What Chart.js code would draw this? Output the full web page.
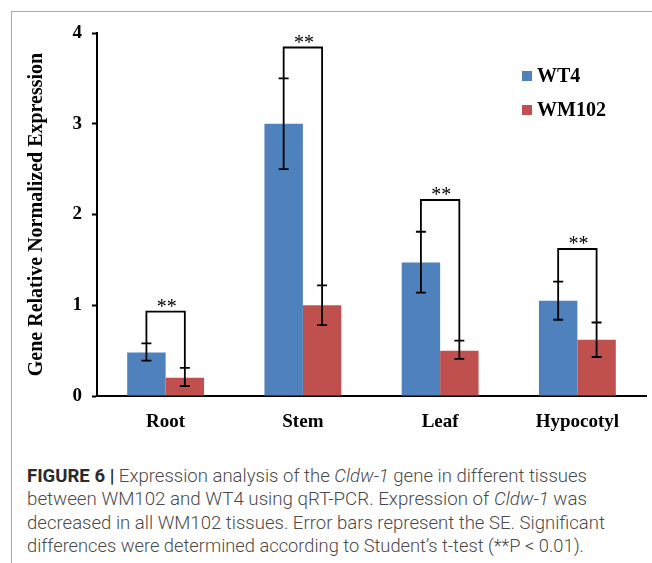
<!DOCTYPE html>
<html>
<head>
<meta charset="utf-8">
<script src="https://cdn.jsdelivr.net/npm/chart.js@4.4.1/dist/chart.umd.min.js"></script>
<style>
  body { margin: 0; background: #fff; }
  #wrap { position: relative; width: 652px; height: 563px; overflow: hidden; }
  #frame { position: absolute; left: 11px; top: 11px; right: -5px; bottom: -5px;
           border-top: 1px solid #aaa; border-left: 1px solid #aaa; }
  #salesChart { position: absolute; left: 0; top: 0; }
  .cap { position: absolute; left: 27px; white-space: nowrap; transform-origin: 0 0;
         font-family: Roboto, "Liberation Sans", sans-serif; font-size: 18px; line-height: 18px;
         color: #4a4a4a; font-weight: 300; }
  .cap b { color: #2a2a2a; font-weight: 700; }
</style>
</head>
<body>
<div id="wrap">
  <div id="frame"></div>
  <canvas id="salesChart" width="652" height="450"></canvas>
  <div class="cap" data-w="560" style="top:467px"><b>FIGURE 6 |</b> Expression analysis of the <i>Cldw-1</i> gene in different tissues</div>
  <div class="cap" data-w="560" style="top:490px">between WM102 and WT4 using qRT-PCR. Expression of <i>Cldw-1</i> was</div>
  <div class="cap" data-w="578" style="top:514px">decreased in all WM102 tissues. Error bars represent the SE. Significant</div>
  <div class="cap" data-w="557" style="top:537px">differences were determined according to Student’s t-test (**P &lt; 0.01).</div>
</div>
<script>
const tissues = ['Root', 'Stem', 'Leaf', 'Hypocotyl'];
const wt4 = [0.48, 3.0, 1.47, 1.05];
const wt4Low = [0.39, 2.5, 1.14, 0.84];
const wt4High = [0.58, 3.5, 1.81, 1.26];
const wm102 = [0.2, 1.0, 0.5, 0.62];
const wm102Low = [0.11, 0.78, 0.41, 0.43];
const wm102High = [0.31, 1.22, 0.61, 0.81];
const bracketAt = [0.93, 3.84, 2.16, 1.62];
const yTicks = [0, 1, 2, 3, 4];

const serif = '"Liberation Serif", "Times New Roman", serif';

// error bars, significance brackets and the inside legend
const extras = {
    id: 'extras',
    afterDatasetsDraw(chart) {
        const ctx = chart.ctx;
        const y = chart.scales.y;
        const lows = [wt4Low, wm102Low];
        const highs = [wt4High, wm102High];
        ctx.save();
        ctx.strokeStyle = '#000';
        ctx.lineWidth = 1.8;
        [0, 1].forEach(function(d) {
            chart.getDatasetMeta(d).data.forEach(function(bar, i) {
                const lo = y.getPixelForValue(lows[d][i]);
                const hi = y.getPixelForValue(highs[d][i]);
                ctx.beginPath();
                ctx.moveTo(bar.x, lo); ctx.lineTo(bar.x, hi);
                ctx.moveTo(bar.x - 5, lo); ctx.lineTo(bar.x + 5, lo);
                ctx.moveTo(bar.x - 5, hi); ctx.lineTo(bar.x + 5, hi);
                ctx.stroke();
            });
        });
        const a = chart.getDatasetMeta(0).data;
        const b = chart.getDatasetMeta(1).data;
        tissues.forEach(function(t, i) {
            const top = y.getPixelForValue(bracketAt[i]);
            ctx.beginPath();
            ctx.moveTo(a[i].x, y.getPixelForValue(wt4High[i]));
            ctx.lineTo(a[i].x, top);
            ctx.lineTo(b[i].x, top);
            ctx.lineTo(b[i].x, y.getPixelForValue(wm102High[i]));
            ctx.stroke();
            ctx.fillStyle = '#000';
            ctx.font = '20px ' + serif;
            ctx.textAlign = 'center';
            ctx.textBaseline = 'alphabetic';
            ctx.fillText('**', (a[i].x + b[i].x) / 2 + 1, top + 1);
        });
        ctx.restore();
    },
    afterDraw(chart) {
        const ctx = chart.ctx;
        ctx.save();
        ctx.font = 'bold 20px ' + serif;
        ctx.textBaseline = 'middle';
        ctx.textAlign = 'left';
        chart.data.datasets.forEach(function(ds, k) {
            const cy = 76 + k * 34;
            ctx.fillStyle = ds.backgroundColor;
            ctx.fillRect(522, cy - 5, 10, 10);
            ctx.fillStyle = '#000';
            ctx.fillText(ds.label, 537, cy + 1);
        });
        ctx.restore();
    }
};

const ctx = document.getElementById('salesChart').getContext('2d');
new Chart(ctx, {
    type: 'bar',
    data: {
        labels: tissues,
        datasets: [{
            label: 'WT4',
            data: wt4,
            backgroundColor: '#4F81BD',
            categoryPercentage: 0.56,
            barPercentage: 1
        }, {
            label: 'WM102',
            data: wm102,
            backgroundColor: '#C0504D',
            categoryPercentage: 0.56,
            barPercentage: 1
        }]
    },
    options: {
        responsive: false,
        animation: false,
        layout: { padding: { left: 0, right: 6, top: 33, bottom: 0 } },
        plugins: { legend: { display: false }, tooltip: { enabled: false } },
        scales: {
            x: {
                grid: { drawOnChartArea: false, drawTicks: false },
                border: { color: '#000', width: 2 },
                ticks: { color: '#000', font: { family: serif, size: 19, weight: 'bold' }, padding: 15 },
                afterFit: function(s) { s.height = 54; }
            },
            y: {
                min: 0,
                max: 4,
                afterBuildTicks: function(s) { s.ticks = yTicks.map(function(v) { return { value: v }; }); },
                grid: { drawOnChartArea: false, tickLength: 5, tickColor: '#000', tickWidth: 2 },
                border: { color: '#000', width: 2 },
                ticks: { color: '#000', font: { family: serif, size: 19, weight: 'bold' }, padding: 10 },
                title: {
                    display: true,
                    text: 'Gene Relative Normalized Expression',
                    color: '#000',
                    font: { family: serif, size: 20, weight: 'bold' },
                    padding: { top: 25, bottom: 0 }
                },
                afterFit: function(s) { s.width = 97; }
            }
        }
    },
    plugins: [extras]
});

// squeeze each caption line to the width it has in the figure
document.querySelectorAll('.cap').forEach(function(el) {
    const w = el.getBoundingClientRect().width;
    el.style.transform = 'scaleX(' + (parseFloat(el.dataset.w) / w) + ')';
});
</script>
</body>
</html>
